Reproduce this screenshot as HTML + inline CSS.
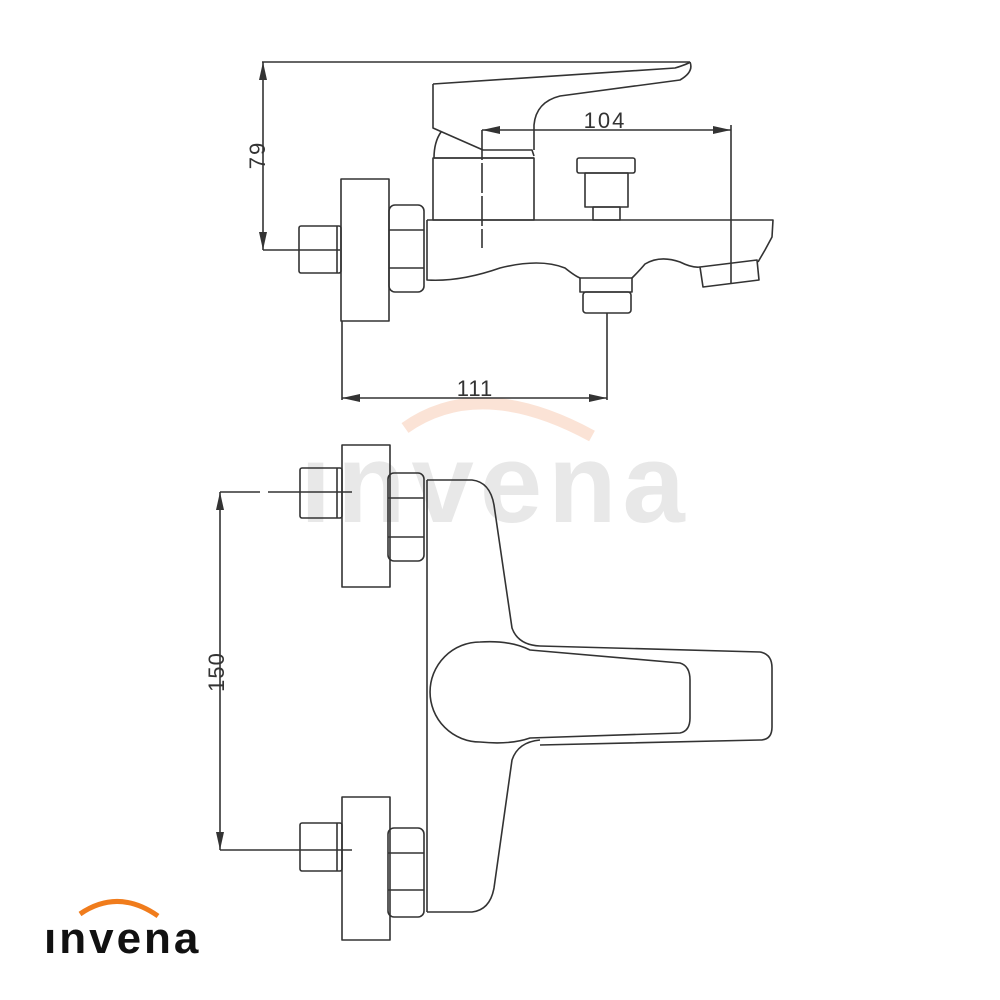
<!DOCTYPE html>
<html><head><meta charset="utf-8"><style>
html,body{margin:0;padding:0;background:#fff;}
svg{display:block}
</style></head><body>
<svg width="1000" height="1000" viewBox="0 0 1000 1000" xmlns="http://www.w3.org/2000/svg">
<rect width="1000" height="1000" fill="#fff"/>
<!-- watermark -->
<path d="M405,428 Q480,375 592,436" fill="none" stroke="#fbe3d6" stroke-width="12"/>
<text x="300" y="522" font-family="Liberation Sans, sans-serif" font-weight="bold" font-size="112" fill="#e8e8e8" letter-spacing="6">ınvena</text>

<g fill="none" stroke="#333" stroke-width="1.6" stroke-linejoin="round">
<!-- TOP VIEW -->
<line x1="262" y1="62" x2="690" y2="62"/>
<line x1="263" y1="62" x2="263" y2="250"/>
<line x1="263" y1="250" x2="340" y2="250"/>
<!-- handle -->
<path d="M690,62 Q694,72 680,80 L560,96 Q536,102 534,125 L534,150"/>
<path d="M433,84 L675,68 Q688,64 690,62"/>
<path d="M433,84 L433,128 L483,150 L532,150 L534,156"/>
<path d="M441,132 Q434,142 434,158"/>
<line x1="434" y1="158" x2="534" y2="158"/>
<rect x="433" y="158" width="101" height="62"/>
<!-- body -->
<path d="M427,220 L773,220 L772,237 L765,250 L758,262"/>
<path d="M427,220 L427,280 Q460,282 500,268 Q540,258 565,268 Q575,276 580,278"/>
<path d="M632,278 Q640,270 645,264 Q660,255 680,262 Q692,268 700,267"/>
<path d="M700,267 L757,260 L759,280 L703,287 Z"/>
<rect x="580" y="278" width="52" height="14"/>
<rect x="583" y="292" width="48" height="21" rx="3"/>
<!-- knob -->
<rect x="577" y="158" width="58" height="15" rx="2"/>
<rect x="585" y="173" width="43" height="34"/>
<rect x="593" y="207" width="27" height="13"/>
<!-- hex/flange/pipe -->
<rect x="389" y="205" width="35" height="87" rx="6"/>
<line x1="389" y1="230" x2="424" y2="230"/>
<line x1="389" y1="268" x2="424" y2="268"/>
<rect x="341" y="179" width="48" height="142"/>
<rect x="299" y="226" width="42" height="47" rx="2"/>
<line x1="337" y1="226" x2="337" y2="273"/>
<!-- dim 104 -->
<line x1="482" y1="130" x2="731" y2="130"/>
<line x1="482" y1="130" x2="482" y2="248" stroke-dasharray="30,3"/>
<line x1="731" y1="125" x2="731" y2="283"/>
<!-- dim 111 -->
<line x1="342" y1="321" x2="342" y2="400"/>
<line x1="607" y1="313" x2="607" y2="400"/>
<line x1="342" y1="398" x2="607" y2="398"/>

<!-- BOTTOM VIEW -->
<line x1="220" y1="492" x2="220" y2="850"/>
<line x1="220" y1="492" x2="260" y2="492"/>
<line x1="268" y1="492" x2="352" y2="492"/>
<line x1="220" y1="850" x2="352" y2="850"/>
<!-- upper -->
<rect x="342" y="445" width="48" height="142"/>
<rect x="300" y="468" width="42" height="50" rx="2"/>
<line x1="337" y1="468" x2="337" y2="518"/>
<rect x="388" y="473" width="36" height="88" rx="6"/>
<line x1="388" y1="498" x2="424" y2="498"/>
<line x1="388" y1="537" x2="424" y2="537"/>
<!-- lower -->
<rect x="342" y="797" width="48" height="143"/>
<rect x="300" y="823" width="42" height="48" rx="2"/>
<line x1="337" y1="823" x2="337" y2="871"/>
<rect x="388" y="828" width="36" height="89" rx="6"/>
<line x1="388" y1="853" x2="424" y2="853"/>
<line x1="388" y1="890" x2="424" y2="890"/>
<!-- body -->
<line x1="427" y1="480" x2="427" y2="912"/>
<path d="M427,480 L472,480 Q490,482 494,505 L512,628 Q518,645 540,646"/>
<path d="M540,740 Q518,742 512,760 L494,888 Q490,910 472,912 L427,912"/>
<!-- handle -->
<path d="M540,646 L760,652 Q772,654 772,668 L772,727 Q772,740 760,740 L540,745"/>
<path d="M480,642 Q510,640 530,650 L680,663 Q690,666 690,680 L690,718 Q690,731 680,733 L530,738 Q510,745 480,742 A50,50 0 0 1 480,642 Z"/>
</g>
<g fill="#333">
<polygon points="263,62 259,80 267,80"/>
<polygon points="263,250 259,232 267,232"/>
<polygon points="482,130 500,126 500,134"/>
<polygon points="731,130 713,126 713,134"/>
<polygon points="342,398 360,394 360,402"/>
<polygon points="607,398 589,394 589,402"/>
<polygon points="220,492 216,510 224,510"/>
<polygon points="220,850 216,832 224,832"/>
</g>
<g font-family="Liberation Sans, sans-serif" font-size="22" fill="#333">
<text x="605" y="128" text-anchor="middle" letter-spacing="2">104</text>
<text x="475" y="396" text-anchor="middle" letter-spacing="1">111</text>
<text transform="translate(265,155) rotate(-90)" text-anchor="middle" letter-spacing="2">79</text>
<text transform="translate(224,672) rotate(-90)" text-anchor="middle" letter-spacing="1">150</text>
</g>
<!-- logo -->
<path d="M80,914 Q118,888 158,916" fill="none" stroke="#f07c1c" stroke-width="5"/>
<text x="44" y="953" font-family="Liberation Sans, sans-serif" font-weight="bold" font-size="44" fill="#111" letter-spacing="3">ınvena</text>
</svg>
</body></html>
